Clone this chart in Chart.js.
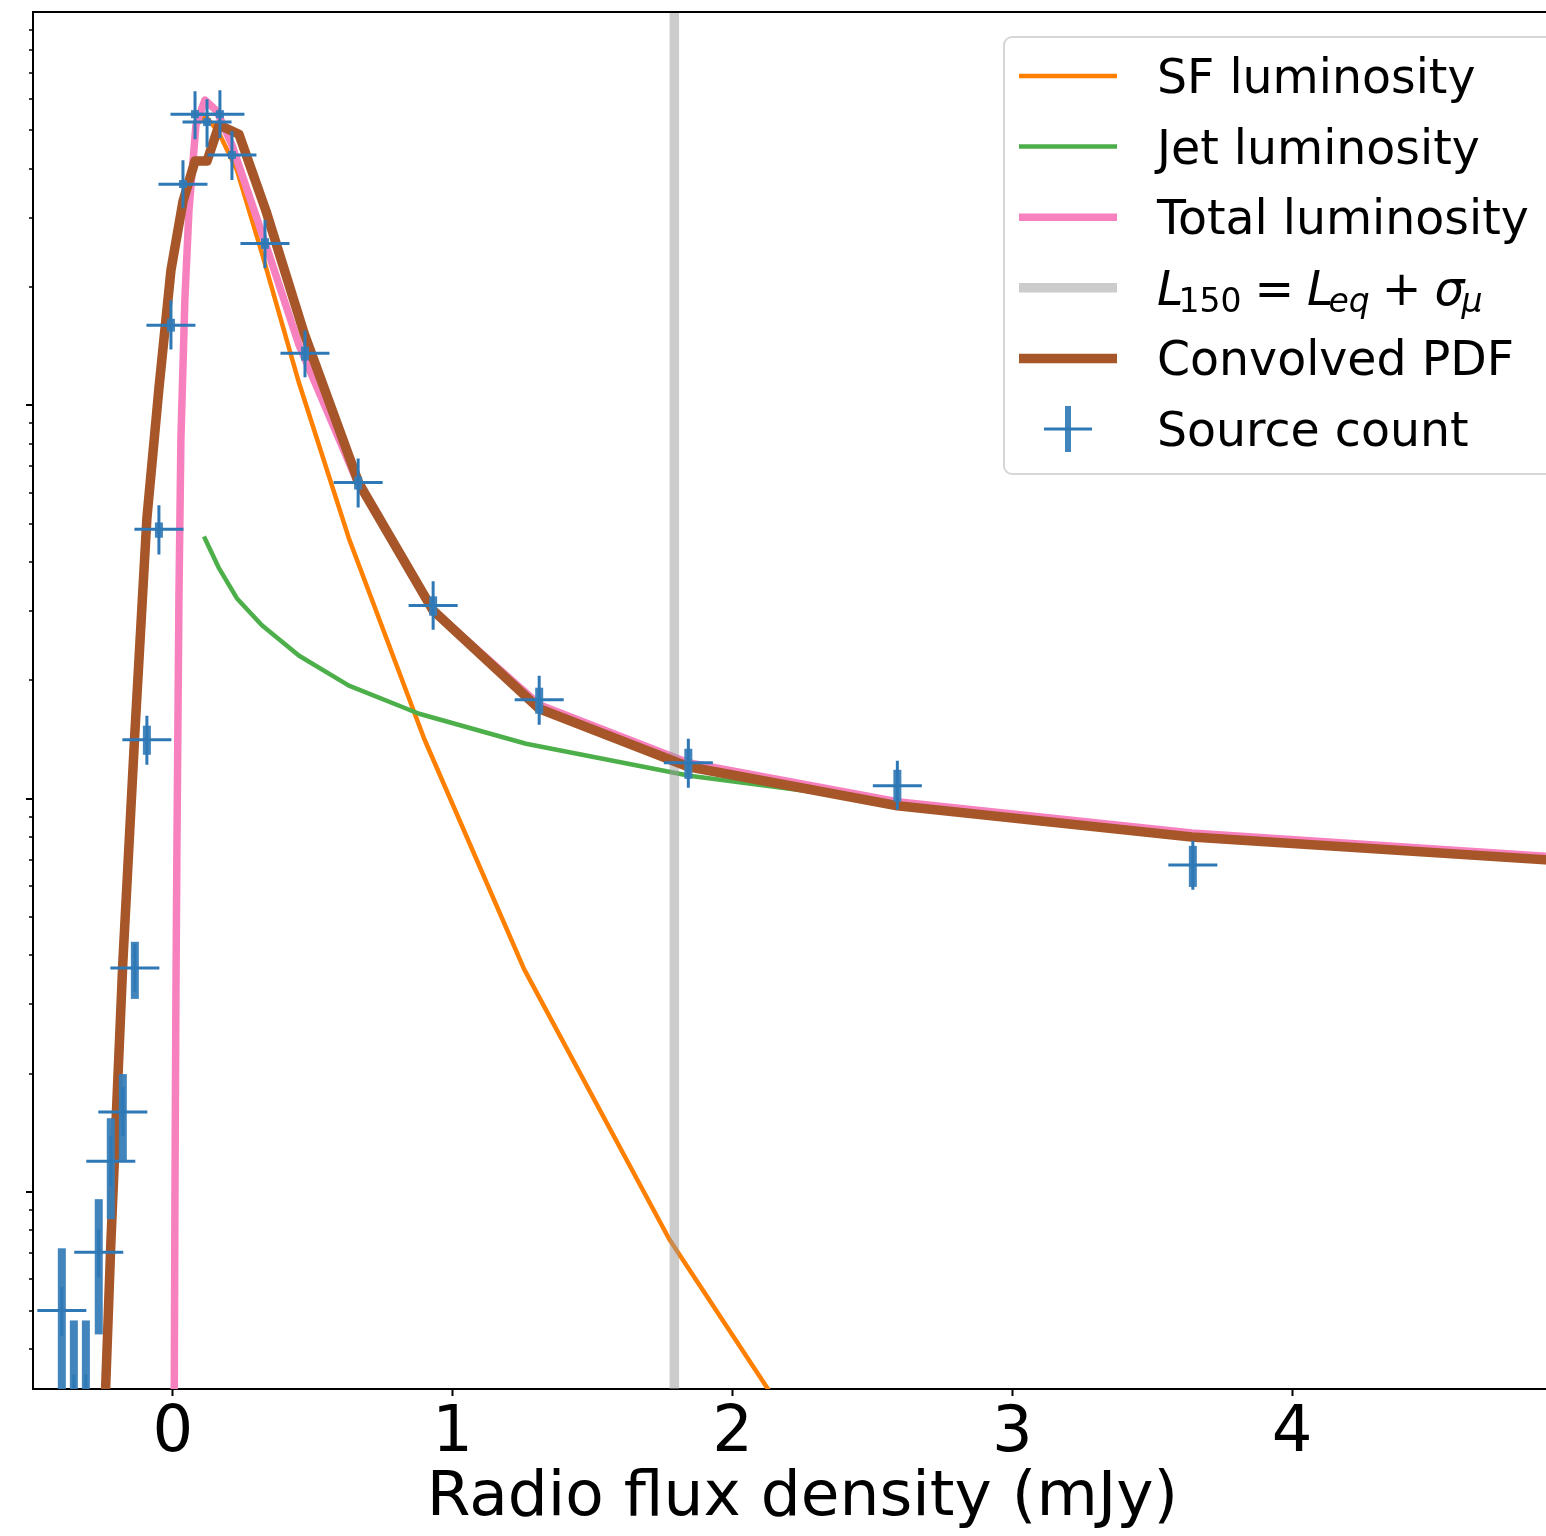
<!DOCTYPE html>
<html>
<head>
<meta charset="utf-8">
<script src="https://cdn.jsdelivr.net/npm/chart.js@4.4.0/dist/chart.umd.min.js"></script>
<style>
  html, body { margin: 0; padding: 0; background: #fff; overflow: hidden; }
  #wrap { width: 1546px; height: 1536px; overflow: hidden; }
  canvas { display: block; }
</style>
</head>
<body>
<div id="wrap"><canvas id="myChart" width="1580" height="1536"></canvas></div>
<script>
// axis ranges (x in mJy, y log scale, no labels)
const xMin = -0.5, xMax = 5.0;
const yMin = 0.316, yMax = 1000;
const xTicks = [0, 1, 2, 3, 4];
const yMajorTicks = [1, 10, 100];
const yMinorTicks = [0.4, 0.5, 0.6, 0.7, 0.8, 0.9, 2, 3, 4, 5, 6, 7, 8, 9,
                     20, 30, 40, 50, 60, 70, 80, 90, 200, 300, 400, 500, 600, 700, 800, 900];

// SF luminosity
const sfX = [0.0036, 0.0072, 0.0107, 0.0143, 0.0215, 0.0286, 0.0429, 0.0572, 0.0823, 0.118, 0.165, 0.229, 0.318, 0.451, 0.629, 0.898, 1.255, 1.774, 2.421];
const sfY = [0.166, 0.96, 3.10, 7.46, 32.3, 82.4, 187, 311.6, 516, 543, 492, 396, 243.7, 113.8, 45.9, 14.21, 3.69, 0.759, 0.152];

// Jet luminosity
const jetX = [0.111, 0.165, 0.229, 0.318, 0.451, 0.629, 0.880, 1.262, 1.846, 2.589, 3.641, 5.0];
const jetY = [46.4, 38.5, 32.3, 27.6, 23.1, 19.4, 16.45, 13.8, 11.44, 9.77, 8.19, 7.07];

// Total luminosity
const totX = [0.0036, 0.0072, 0.0107, 0.0143, 0.0215, 0.0286, 0.0429, 0.0572, 0.0823, 0.1144, 0.157, 0.211, 0.333, 0.451, 0.658, 0.930, 1.309, 1.842, 2.589, 3.641, 5.0];
const totY = [0.166, 0.96, 3.10, 7.46, 32.3, 82.4, 187, 311.6, 516, 597, 560, 459, 255, 142.1, 64.1, 30.1, 17.35, 12.35, 9.83, 8.19, 7.07];

// L150 = Leq + sigma_mu
const lEqX = 1.792;

// Convolved PDF
const pdfX = [-0.247, -0.222, -0.179, -0.136, -0.093, -0.050, -0.007, 0.036, 0.079, 0.122, 0.165, 0.236, 0.333, 0.469, 0.665, 0.930, 1.309, 1.842, 2.589, 3.641, 5.0];
const pdfY = [0.235, 0.737, 3.83, 14.7, 51.6, 110.5, 220.5, 330, 418, 418, 516, 489, 311.6, 152.5, 63.3, 30.1, 16.94, 12.06, 9.60, 8.0, 6.93];

// Source count (centre, half bin width, thin and thick error bars)
const srcX = [-0.397, -0.354, -0.311, -0.265, -0.222, -0.179, -0.136, -0.093, -0.050, -0.007, 0.036, 0.079, 0.122, 0.168, 0.211, 0.329, 0.472, 0.662, 0.930, 1.309, 1.842, 2.589, 3.645];
const srcY = [0.50, 0.22, 0.22, 0.704, 1.199, 1.598, 3.715, 14.13, 48.4, 159.8, 365, 550, 525, 550, 433, 258, 135.6, 63.7, 31.0, 17.86, 12.35, 10.79, 6.79];
const srcXErr = 0.0876;
const thinLo = [0.430, 0.10, 0.10, 0.608, 1.036, 1.388, 3.23, 12.2, 41.8, 138.8, 317, 475, 453, 478, 374, 223, 117.9, 55.0, 26.9, 15.43, 10.66, 9.38, 5.87];
const thinHi = [0.573, 0.344, 0.344, 0.805, 1.388, 1.85, 4.28, 16.26, 55.7, 185, 420, 629, 600, 633, 498, 296, 155, 73.3, 35.7, 20.56, 14.21, 12.5, 7.82];
const thickLo = [0.05, 0.01, 0.01, 0.435, 0.854, 1.199, 3.10, 12.94, 46.1, 154, 357, 537, 513, 537, 423, 250, 130, 61.1, 29.2, 16.45, 11.24, 9.83, 5.97];
const thickHi = [0.72, 0.472, 0.472, 0.96, 1.542, 1.996, 4.33, 15.34, 50.4, 166, 374, 563, 537, 563, 443, 266, 141, 65.9, 32.7, 19.16, 13.4, 11.85, 7.59];

const cOrange = '#ff7f00', cGreen = '#4daf4a', cPink = '#f781bf', cGray = 'rgba(153,153,153,0.5)';
const cBrown = '#a65628', cBlue = '#2f78b6', cBlueThick = 'rgba(55,126,184,0.95)';

const toXY = (xs, ys) => xs.map((v, i) => ({ x: v, y: ys[i] }));

Chart.defaults.font.family = '"DejaVu Sans", sans-serif';
Chart.defaults.color = '#000';

const errorBars = {
    id: 'errorBars',
    afterDatasetsDraw(chart) {
        const { ctx, chartArea: a, scales: { x, y } } = chart;
        ctx.save();
        ctx.beginPath();
        ctx.rect(a.left, a.top, a.right - a.left, a.bottom - a.top);
        ctx.clip();
        for (let i = 0; i < srcX.length; i++) {
            const px = x.getPixelForValue(srcX[i]);
            const t1 = y.getPixelForValue(thickHi[i]);
            const t2 = y.getPixelForValue(thickLo[i]);
            ctx.fillStyle = cBlueThick;
            ctx.fillRect(px - 4, t1, 8, t2 - t1);
            ctx.strokeStyle = cBlue;
            ctx.lineWidth = 3;
            ctx.beginPath();
            ctx.moveTo(px, y.getPixelForValue(thinHi[i]));
            ctx.lineTo(px, y.getPixelForValue(thinLo[i]));
            const py = y.getPixelForValue(srcY[i]);
            ctx.moveTo(x.getPixelForValue(srcX[i] - srcXErr), py);
            ctx.lineTo(x.getPixelForValue(srcX[i] + srcXErr), py);
            ctx.stroke();
        }
        ctx.restore();
    }
};

const frame = {
    id: 'frame',
    afterDraw(chart) {
        const { ctx, chartArea: a, scales: { y } } = chart;
        ctx.save();
        ctx.strokeStyle = '#000';
        ctx.lineWidth = 2;
        ctx.beginPath();
        ctx.moveTo(a.left - 1, a.top);
        ctx.lineTo(a.right, a.top);
        ctx.stroke();
        // y ticks, no labels
        yMajorTicks.forEach(v => {
            const py = Math.round(y.getPixelForValue(v));
            ctx.beginPath(); ctx.moveTo(a.left - 7, py); ctx.lineTo(a.left, py); ctx.stroke();
        });
        ctx.lineWidth = 1.5;
        yMinorTicks.forEach(v => {
            const py = Math.round(y.getPixelForValue(v));
            ctx.beginPath(); ctx.moveTo(a.left - 4, py); ctx.lineTo(a.left, py); ctx.stroke();
        });
        ctx.restore();
    }
};

const legendBox = {
    id: 'legendBox',
    afterDraw(chart) {
        const { ctx, chartArea: a } = chart;
        const left = a.right - 568, top = a.top + 25, w = 558, h = 437;
        ctx.save();
        ctx.fillStyle = 'rgba(255,255,255,0.8)';
        ctx.strokeStyle = '#d6d6d6';
        ctx.lineWidth = 2;
        ctx.beginPath();
        ctx.roundRect(left, top, w, h, 8);
        ctx.fill();
        ctx.stroke();

        const rows = [
            { label: 'SF luminosity', color: cOrange, width: 4.5 },
            { label: 'Jet luminosity', color: cGreen, width: 4.5 },
            { label: 'Total luminosity', color: cPink, width: 7.5 },
            { label: null, color: '#cccccc', width: 9.5 },
            { label: 'Convolved PDF', color: cBrown, width: 9.5 },
            { label: 'Source count', color: cBlue, width: 3, err: true }
        ];
        const hx0 = left + 15, hx1 = left + 113, tx = left + 153;
        ctx.textBaseline = 'alphabetic';
        rows.forEach((r, i) => {
            const cy = top + 39 + i * 70.6;
            if (r.err) {
                const mx = (hx0 + hx1) / 2;
                ctx.fillStyle = cBlueThick;
                ctx.fillRect(mx - 3, cy - 23, 6, 46);
                ctx.strokeStyle = cBlue;
                ctx.lineWidth = 3;
                ctx.beginPath();
                ctx.moveTo(mx - 24, cy); ctx.lineTo(mx + 24, cy);
                ctx.stroke();
            } else {
                ctx.strokeStyle = r.color;
                ctx.lineWidth = r.width;
                ctx.beginPath();
                ctx.moveTo(hx0, cy); ctx.lineTo(hx1, cy);
                ctx.stroke();
            }
            ctx.fillStyle = '#000';
            const base = cy + 17;
            if (r.label) {
                ctx.font = '47.4px "DejaVu Sans"';
                ctx.fillText(r.label, tx, base);
            } else {
                // L_150 = L_eq + sigma_mu
                let px = tx;
                const put = (txt, font, dy, gapAfter) => {
                    ctx.font = font;
                    ctx.fillText(txt, px, base + dy);
                    px += ctx.measureText(txt).width + gapAfter;
                };
                const it = 'italic 47.4px "DejaVu Sans"', itS = 'italic 33px "DejaVu Sans"';
                const rm = '47.4px "DejaVu Sans"', rmS = '33px "DejaVu Sans"';
                put('L', it, 0, -5);
                put('150', rmS, 7, 13);
                put('=', rm, 0, 13);
                put('L', it, 0, -5);
                put('eq', itS, 7, 12);
                put('+', rm, 0, 13);
                put('σ', it, 0, -3);
                put('μ', itS, 7, 0);
            }
        });
        ctx.restore();
    }
};

const ctx = document.getElementById('myChart').getContext('2d');
const chart = new Chart(ctx, {
    type: 'scatter',
    data: {
        datasets: [
            { label: 'SF luminosity', data: toXY(sfX, sfY), showLine: true, borderColor: cOrange, borderWidth: 4.5, pointRadius: 0, order: 6, clip: 0 },
            { label: 'Jet luminosity', data: toXY(jetX, jetY), showLine: true, borderColor: cGreen, borderWidth: 4.5, pointRadius: 0, order: 5, clip: 0 },
            { label: 'Total luminosity', data: toXY(totX, totY), showLine: true, borderColor: cPink, borderWidth: 7.5, pointRadius: 0, order: 4, clip: 0 },
            { label: 'L150', data: [{ x: lEqX, y: yMin / 10 }, { x: lEqX, y: yMax * 10 }], showLine: true, borderColor: cGray, borderWidth: 9.5, pointRadius: 0, order: 3, clip: 0 },
            { label: 'Convolved PDF', data: toXY(pdfX, pdfY), showLine: true, borderColor: cBrown, borderWidth: 9.5, pointRadius: 0, order: 2, clip: 0 },
            { label: 'Source count', data: toXY(srcX, srcY), pointRadius: 0, order: 1 }
        ]
    },
    options: {
        responsive: false,
        animation: false,
        layout: { padding: { top: 12, left: 0, right: 8, bottom: 0 } },
        plugins: { legend: { display: false }, tooltip: { enabled: false } },
        elements: { line: { tension: 0, borderJoinStyle: 'round', borderCapStyle: 'butt' } },
        scales: {
            x: {
                type: 'linear',
                bounds: 'data',
                min: xMin,
                max: xMax,
                afterBuildTicks: s => { s.ticks = xTicks.map(v => ({ value: v })); },
                afterFit: s => { s.height = 147; },
                ticks: { font: { size: 64 }, color: '#000', padding: 0, maxRotation: 0 },
                grid: { drawOnChartArea: false, drawTicks: true, tickLength: 7, tickWidth: 2, tickColor: '#000' },
                border: { display: true, color: '#000', width: 2 },
                title: { display: true, text: 'Radio flux density (mJy)', font: { size: 63 }, color: '#000', padding: 0 }
            },
            y: {
                type: 'logarithmic',
                bounds: 'data',
                min: yMin,
                max: yMax,
                afterFit: s => { s.width = 33; },
                ticks: { display: false },
                grid: { display: false },
                border: { display: true, color: '#000', width: 2 }
            }
        }
    },
    plugins: [errorBars, frame, legendBox]
});
</script>
</body>
</html>
